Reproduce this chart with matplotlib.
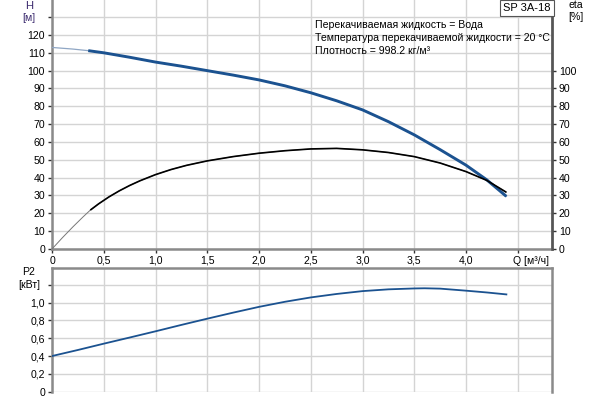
import matplotlib
matplotlib.use("Agg")
import matplotlib.pyplot as plt

# ---- data ----
q_h = [0.0, 0.2, 0.35, 0.5, 0.75, 1.0, 1.25, 1.5, 1.75, 2.0, 2.25, 2.5, 2.75, 3.0, 3.25, 3.5, 3.75, 4.0, 4.2, 4.39]
h = [113.0, 112.1, 111.2, 110.0, 107.5, 104.8, 102.5, 100.0, 97.5, 94.8, 91.5, 87.6, 83.1, 78.0, 71.4, 64.0, 55.7, 47.0, 38.8, 29.5]

q_eta = [0.0, 0.1, 0.2, 0.3, 0.37, 0.45, 0.55, 0.65, 0.75, 0.85, 1.0, 1.15, 1.3, 1.5, 1.75, 2.0, 2.25, 2.5, 2.75, 3.0, 3.25, 3.5, 3.75, 4.0, 4.2, 4.39]
eta = [0.0, 6.3, 12.3, 18.0, 21.8, 25.3, 29.2, 32.6, 35.6, 38.25, 41.7, 44.55, 46.9, 49.4, 51.8, 53.7, 55.1, 56.1, 56.4, 55.6, 54.1, 51.8, 48.2, 43.4, 38.5, 31.8]

q_p2 = [0.0, 0.25, 0.5, 0.75, 1.0, 1.25, 1.5, 1.75, 2.0, 2.25, 2.5, 2.75, 3.0, 3.25, 3.5, 3.6, 3.75, 4.0, 4.2, 4.39]
p2 = [0.40, 0.468, 0.539, 0.608, 0.678, 0.750, 0.820, 0.888, 0.953, 1.010, 1.059, 1.098, 1.130, 1.150, 1.160, 1.162, 1.158, 1.135, 1.115, 1.093]

q_thick_start = 0.35

x_ticks = [0, 0.5, 1.0, 1.5, 2.0, 2.5, 3.0, 3.5, 4.0, 4.5]
x_labels = ["0", "0,5", "1,0", "1,5", "2,0", "2,5", "3,0", "3,5", "4,0", ""]
h_ticks = list(range(0, 140, 10))
h_labels = [str(v) if v <= 120 else "" for v in h_ticks]
eta_ticks = list(range(0, 110, 10))
p_ticks = [0, 0.2, 0.4, 0.6, 0.8, 1.0, 1.2]
p_labels = ["0", "0,2", "0,4", "0,6", "0,8", "1,0", ""]

info_lines = ["Перекачиваемая жидкость = Вода",
              "Температура перекачиваемой жидкости = 20 °C",
              "Плотность = 998.2 кг/м³"]

plt.rcParams['font.family'] = ['Liberation Sans', 'DejaVu Sans']
FS = 7.6
W, Hh = 600, 400
fig = plt.figure(figsize=(6, 4), dpi=100)

def frac(x0, y0, x1, y1):
    return [x0 / W, 1 - y1 / Hh, (x1 - x0) / W, (y1 - y0) / Hh]

grid_c = "#d4d4d4"
spine_c = "#8a8a8a"
blue = "#1b5290"
xmax = 500 / 103.5

# ---- top axes ----
ax = fig.add_axes(frac(52, 0, 552, 249))
ax.set_xlim(0, xmax)
ax.set_ylim(0, 139.6)
ax.set_xticks(x_ticks)
ax.set_xticklabels(x_labels, fontsize=FS)
ax.set_yticks(h_ticks)
ax.set_yticklabels(h_labels, fontsize=FS)
ax.grid(True, color=grid_c, linewidth=1.0)
ax.set_axisbelow(True)
for s in ["left", "bottom", "right"]:
    ax.spines[s].set_color(spine_c)
    ax.spines[s].set_linewidth(1.8)
ax.spines["top"].set_visible(False)
ax.tick_params(length=3, width=1, color="#333333", pad=2)

# thin parts
ax.plot(q_h, h, color="#8fa6c4", linewidth=0.9, zorder=3)
ax.plot(q_eta, eta, color="#777777", linewidth=0.7, zorder=3)
# thick parts
qh_t = [q for q in q_h if q >= q_thick_start]
h_t = [v for q, v in zip(q_h, h) if q >= q_thick_start]
qe_t = [q for q in q_eta if q >= q_thick_start]
e_t = [v for q, v in zip(q_eta, eta) if q >= q_thick_start]
ax.plot(qh_t, h_t, color=blue, linewidth=2.1, zorder=4, solid_capstyle="butt")
ax.plot(qe_t, e_t, color="black", linewidth=1.2, zorder=5, solid_capstyle="butt")

ax2 = ax.twinx()
ax2.set_ylim(0, 139.6)
ax2.set_yticks(eta_ticks)
ax2.set_yticklabels([str(v) for v in eta_ticks], fontsize=FS)
ax2.tick_params(length=3, width=1, color="#333333", pad=2)
for s in ["left", "bottom", "top"]:
    ax2.spines[s].set_visible(False)
ax2.spines["right"].set_color("#555555")
ax2.spines["right"].set_linewidth(1.8)

fig.text(29 / W, 1 - 6 / Hh, "H", fontsize=FS + 0.5, ha="center", va="center", color="#3b2a6e")
fig.text(29 / W, 1 - 18 / Hh, "[м]", fontsize=FS, ha="center", va="center", color="#3b2a6e")
fig.text(576 / W, 1 - 5 / Hh, "eta", fontsize=FS, ha="center", va="center")
fig.text(576 / W, 1 - 17 / Hh, "[%]", fontsize=FS, ha="center", va="center")
fig.text(531 / W, 1 - 261 / Hh, "Q [м³/ч]", fontsize=FS, ha="center", va="center")
fig.text(527 / W, 1 - 8 / Hh, "SP 3A-18", fontsize=FS + 0.4, ha="center", va="center",
         bbox=dict(boxstyle="square,pad=0.3", facecolor="white", edgecolor="#555555", linewidth=0.8))
for i, line in enumerate(info_lines):
    fig.text(315 / W, 1 - (25 + 13 * i) / Hh, line, fontsize=FS, ha="left", va="center")

# ---- bottom axes ----
bx = fig.add_axes(frac(52, 268, 552, 391.6))
bx.set_xlim(0, xmax)
bx.set_ylim(0, 1.39)
bx.set_xticks(x_ticks)
bx.set_xticklabels([])
bx.tick_params(axis="x", length=0)
bx.set_yticks(p_ticks)
bx.set_yticklabels(p_labels, fontsize=FS)
bx.tick_params(axis="y", length=3, width=1, color="#333333", pad=2)
bx.grid(True, color=grid_c, linewidth=1.0)
bx.set_axisbelow(True)
for s in ["left", "bottom", "right", "top"]:
    bx.spines[s].set_color(spine_c)
    bx.spines[s].set_linewidth(1.8)
bx.spines["bottom"].set_visible(False)
bx.plot(q_p2, p2, color=blue, linewidth=1.3, zorder=3)

fig.text(29 / W, 1 - 272 / Hh, "P2", fontsize=FS, ha="center", va="center")
fig.text(29 / W, 1 - 285 / Hh, "[кВт]", fontsize=FS, ha="center", va="center")

fig.savefig("out.png", dpi=100)
